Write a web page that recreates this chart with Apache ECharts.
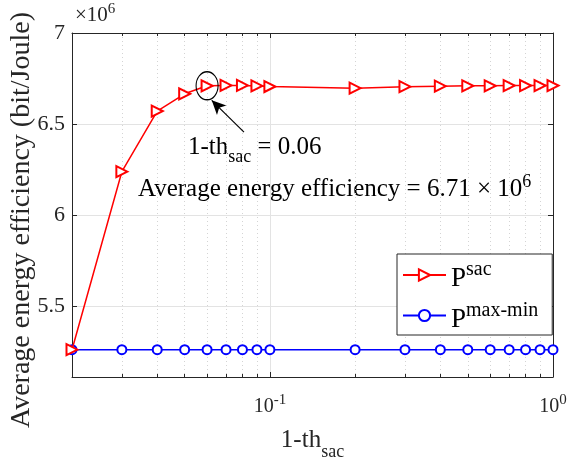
<!DOCTYPE html>
<html>
<head>
<meta charset="utf-8">
<script src="https://cdn.jsdelivr.net/npm/echarts@6/dist/echarts.min.js"></script>
<style>
  html, body { margin: 0; padding: 0; background: #fff; }
  #main { width: 570px; height: 462px; }
</style>
</head>
<body>
<div id="main"></div>
<script>
// 1 - th_sac values (log axis)
var thValues = [0.02, 0.03, 0.04, 0.05, 0.06, 0.07, 0.08, 0.09, 0.1,
  0.2, 0.3, 0.4, 0.5, 0.6, 0.7, 0.8, 0.9, 1.0];
// average energy efficiency, in units of 1e6 bit/Joule
var sacValues = [5.26, 6.238, 6.571, 6.666, 6.71, 6.712, 6.712, 6.709, 6.706,
  6.697, 6.705, 6.708, 6.71, 6.71, 6.711, 6.711, 6.711, 6.711];
var maxMinValues = [5.26, 5.26, 5.26, 5.26, 5.26, 5.26, 5.26, 5.26, 5.26,
  5.26, 5.26, 5.26, 5.26, 5.26, 5.26, 5.26, 5.26, 5.26];
var yTicks = [5.5, 6, 6.5, 7];
var xMajorTicks = [0.1, 1];
var xMinorTicks = [0.03, 0.04, 0.05, 0.06, 0.07, 0.08, 0.09,
  0.2, 0.3, 0.4, 0.5, 0.6, 0.7, 0.8, 0.9];
// annotation: highlighted point and arrow
var highlightPoint = [0.06, 6.71];
var arrowFrom = [0.081, 6.455];
var arrowTo = [0.0623, 6.63];

var FONT = 'Liberation Serif';
var INK = '#262626';

var chart = echarts.init(document.getElementById('main'));

function pairs(xs, ys) {
  return xs.map(function (x, i) { return [x, ys[i]]; });
}

var xBase = {
  type: 'log',
  logBase: 10,
  min: 0.02,
  max: 1,
  gridIndex: 0
};

chart.setOption({
  animation: false,
  textStyle: { fontFamily: FONT, color: INK },
  grid: { left: 72, right: 17, top: 33, bottom: 85, outerBoundsMode: 'none', containLabel: false },
  xAxis: [
    Object.assign({}, xBase, {
      position: 'bottom',
      name: '{m|1-th}{s|sac}',
      nameLocation: 'middle',
      nameGap: 42,
      nameTextStyle: {
        fontFamily: FONT,
        rich: {
          m: { fontFamily: FONT, fontSize: 25, color: INK },
          s: { fontFamily: FONT, fontSize: 18, color: INK, padding: [24, 0, 0, 0] }
        }
      },
      axisLine: { show: true, lineStyle: { color: INK, width: 1 } },
      axisTick: { show: true, inside: true, length: 5, customValues: xMajorTicks, lineStyle: { color: INK } },
      axisLabel: {
        customValues: xMajorTicks,
        margin: 16,
        fontFamily: FONT,
        formatter: function (v) {
          var e = Math.round(Math.log10(v));
          return '{b|10}{e|' + e + '}';
        },
        rich: {
          b: { fontFamily: FONT, fontSize: 20, color: INK },
          e: { fontFamily: FONT, fontSize: 15, color: INK, padding: [0, 0, 12, 0] }
        }
      },
      splitLine: { show: true, lineStyle: { color: '#e3e3e3', width: 1 } }
    }),
    Object.assign({}, xBase, {
      position: 'bottom',
      axisLine: { show: false },
      axisTick: { show: true, inside: true, length: 3, customValues: xMinorTicks, lineStyle: { color: INK } },
      axisLabel: { show: false, customValues: xMinorTicks },
      splitLine: { show: true, lineStyle: { color: '#d4d4d4', width: 1, type: [1, 3] } }
    }),
    Object.assign({}, xBase, {
      position: 'top',
      axisLine: { show: true, lineStyle: { color: INK, width: 1 } },
      axisTick: { show: true, inside: true, length: 5, customValues: xMajorTicks, lineStyle: { color: INK } },
      axisLabel: { show: false, customValues: xMajorTicks },
      splitLine: { show: false }
    }),
    Object.assign({}, xBase, {
      position: 'top',
      axisLine: { show: false },
      axisTick: { show: true, inside: true, length: 3, customValues: xMinorTicks, lineStyle: { color: INK } },
      axisLabel: { show: false, customValues: xMinorTicks },
      splitLine: { show: false }
    })
  ],
  yAxis: [
    {
      type: 'value',
      min: 5.11,
      max: 7,
      position: 'left',
      axisLine: { show: true, lineStyle: { color: INK, width: 1 } },
      axisTick: { show: true, inside: true, length: 5, customValues: yTicks, lineStyle: { color: INK } },
      axisLabel: {
        customValues: yTicks,
        margin: 7,
        fontFamily: FONT,
        formatter: function (v) { return '{v|' + v + '}'; },
        rich: { v: { fontFamily: FONT, fontSize: 22, color: INK } }
      },
      splitLine: { show: true, lineStyle: { color: '#e3e3e3', width: 1 } }
    },
    {
      type: 'value',
      min: 5.11,
      max: 7,
      position: 'right',
      axisLine: { show: true, lineStyle: { color: INK, width: 1 } },
      axisTick: { show: true, inside: true, length: 5, customValues: yTicks, lineStyle: { color: INK } },
      axisLabel: { show: false, customValues: yTicks },
      splitLine: { show: false }
    }
  ],
  legend: {
    orient: 'vertical',
    left: 397,
    top: 254,
    width: 150,
    padding: [6, 14, 2, 5],
    itemGap: 8,
    itemWidth: 43,
    itemHeight: 14,
    backgroundColor: '#fff',
    borderColor: INK,
    borderWidth: 1,
    borderRadius: 0,
    data: ['sac', 'max-min'],
    formatter: function (name) {
      return '{p|P}{s|' + name + '}';
    },
    textStyle: {
      fontFamily: FONT,
      rich: {
        p: { fontFamily: FONT, fontSize: 27, color: '#000', padding: [8, 0, 0, 0] },
        s: { fontFamily: FONT, fontSize: 20, color: '#000', padding: [0, 0, 10, 0] }
      }
    }
  },
  graphic: [
    {
      // y axis title
      type: 'text',
      x: 22,
      y: 220,
      rotation: Math.PI / 2,
      style: {
        text: 'Average energy efficiency (bit/Joule)',
        font: '28px Liberation Serif',
        fontFamily: FONT,
        fontSize: 28,
        fill: INK,
        align: 'center',
        verticalAlign: 'middle'
      }
    },
    {
      type: 'text',
      left: 75,
      top: 2,
      style: {
        text: '{a|×10}{b|6}',
        rich: {
          a: { fontFamily: FONT, fontSize: 21, fill: INK },
          b: { fontFamily: FONT, fontSize: 15, fill: INK, padding: [0, 0, 12, 0] }
        }
      }
    },
    {
      type: 'text',
      left: 188,
      top: 135,
      style: {
        text: '{a|1-th}{s|sac}{a| = 0.06}',
        rich: {
          a: { fontFamily: FONT, fontSize: 25, fill: '#000' },
          s: { fontFamily: FONT, fontSize: 18, fill: '#000', padding: [20, 0, 0, 0] }
        }
      }
    },
    {
      type: 'text',
      left: 138,
      top: 173,
      style: {
        text: '{a|Average energy efficiency = 6.71 × 10}{e|6}',
        rich: {
          a: { fontFamily: FONT, fontSize: 25, fill: '#000' },
          e: { fontFamily: FONT, fontSize: 18, fill: '#000', padding: [0, 0, 14, 0] }
        }
      }
    }
  ],
  series: [
    {
      name: 'sac',
      type: 'line',
      xAxisIndex: 0,
      yAxisIndex: 0,
      data: pairs(thValues, sacValues),
      symbol: 'emptyTriangle',
      symbolRotate: -90,
      symbolSize: 11,
      showAllSymbol: true,
      lineStyle: { color: '#ff0000', width: 1.5 },
      itemStyle: { color: '#ff0000', borderWidth: 1.5 },
      z: 3,
      markPoint: {
        silent: true,
        symbol: 'circle',
        symbolSize: [22, 28],
        itemStyle: { color: 'rgba(0,0,0,0)', borderColor: '#000', borderWidth: 1.2 },
        label: { show: false },
        data: [{ coord: highlightPoint }]
      },
      markLine: {
        silent: true,
        symbol: ['none', 'arrow'],
        symbolSize: [10, 14],
        lineStyle: { color: '#000', width: 1.2, type: 'solid' },
        label: { show: false },
        data: [[{ coord: arrowFrom }, { coord: arrowTo }]]
      }
    },
    {
      name: 'max-min',
      type: 'line',
      xAxisIndex: 0,
      yAxisIndex: 0,
      data: pairs(thValues, maxMinValues),
      symbol: 'emptyCircle',
      symbolSize: 9,
      showAllSymbol: true,
      lineStyle: { color: '#0000ff', width: 1.5 },
      itemStyle: { color: '#0000ff', borderWidth: 1.5 },
      z: 2
    }
  ]
});
</script>
</body>
</html>
